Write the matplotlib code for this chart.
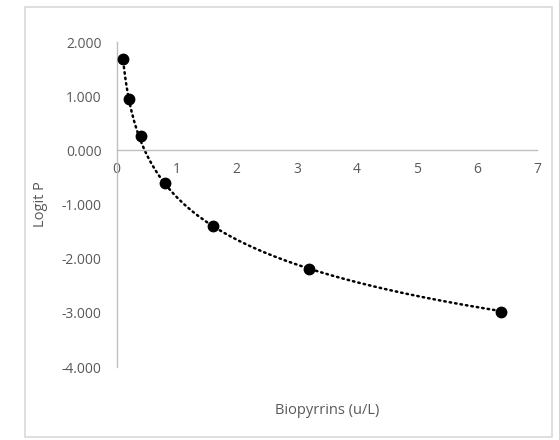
import numpy as np
import matplotlib
matplotlib.use("Agg")
import matplotlib.pyplot as plt
from matplotlib.patches import Rectangle

# Data
biopyrrins = [0.1, 0.2, 0.4, 0.8, 1.6, 3.2, 6.4]
logit_p = [1.69, 0.95, 0.27, -0.61, -1.40, -2.19, -2.99]
x_ticks = [0, 1, 2, 3, 4, 5, 6, 7]
y_ticks = [-4, -3, -2, -1, 0, 1, 2]

plt.rcParams['font.family'] = ['Open Sans', 'DejaVu Sans']
grey = '#595959'
axis_col = '#bfbfbf'

W, H = 559, 440
fig = plt.figure(figsize=(W / 100, H / 100), dpi=100)

# chart border
fig.patches.append(Rectangle((25 / W, 3 / H), 527 / W, 430 / H, transform=fig.transFigure,
                             fill=False, edgecolor='#d9d9d9', linewidth=1.2))

ax = fig.add_axes([116.7 / W, 1 - 367 / H, (537 - 116.7) / W, (367 - 42) / H])

# log trendline (Excel style)
a, b = np.polyfit(np.log(biopyrrins), logit_p, 1)
xs = np.linspace(min(biopyrrins), max(biopyrrins), 300)
ax.plot(xs, a * np.log(xs) + b, color='black', linestyle=(0, (0.6, 1.6)),
        linewidth=1.8, dash_capstyle='round', zorder=2)

ax.plot(biopyrrins, logit_p, 'o', color='black', markersize=7.5, zorder=3)

ax.set_xlim(0, 7)
ax.set_ylim(-4, 2)
ax.set_xticks(x_ticks)
ax.set_yticks(y_ticks)
ax.set_xticklabels([str(t) for t in x_ticks])
ax.set_yticklabels(['%.3f' % t for t in y_ticks])

ax.spines['top'].set_visible(False)
ax.spines['right'].set_visible(False)
ax.spines['bottom'].set_position(('data', 0))
ax.spines['left'].set_position(('data', 0))
for s in ['bottom', 'left']:
    ax.spines[s].set_color(axis_col)
    ax.spines[s].set_linewidth(1.0)

ax.tick_params(axis='x', length=0, pad=8.5, labelsize=10, labelcolor=grey)
ax.tick_params(axis='y', length=0, pad=11, labelsize=10, labelcolor=grey)

fig.text(40 / W, 1 - 204.5 / H, 'Logit P', rotation=90, ha='center', va='center',
         fontsize=10.5, color=grey)
fig.text(327 / W, 1 - 410 / H, 'Biopyrrins (u/L)', ha='center', va='center',
         fontsize=10.5, color=grey)

fig.savefig('out.png', dpi=100)
